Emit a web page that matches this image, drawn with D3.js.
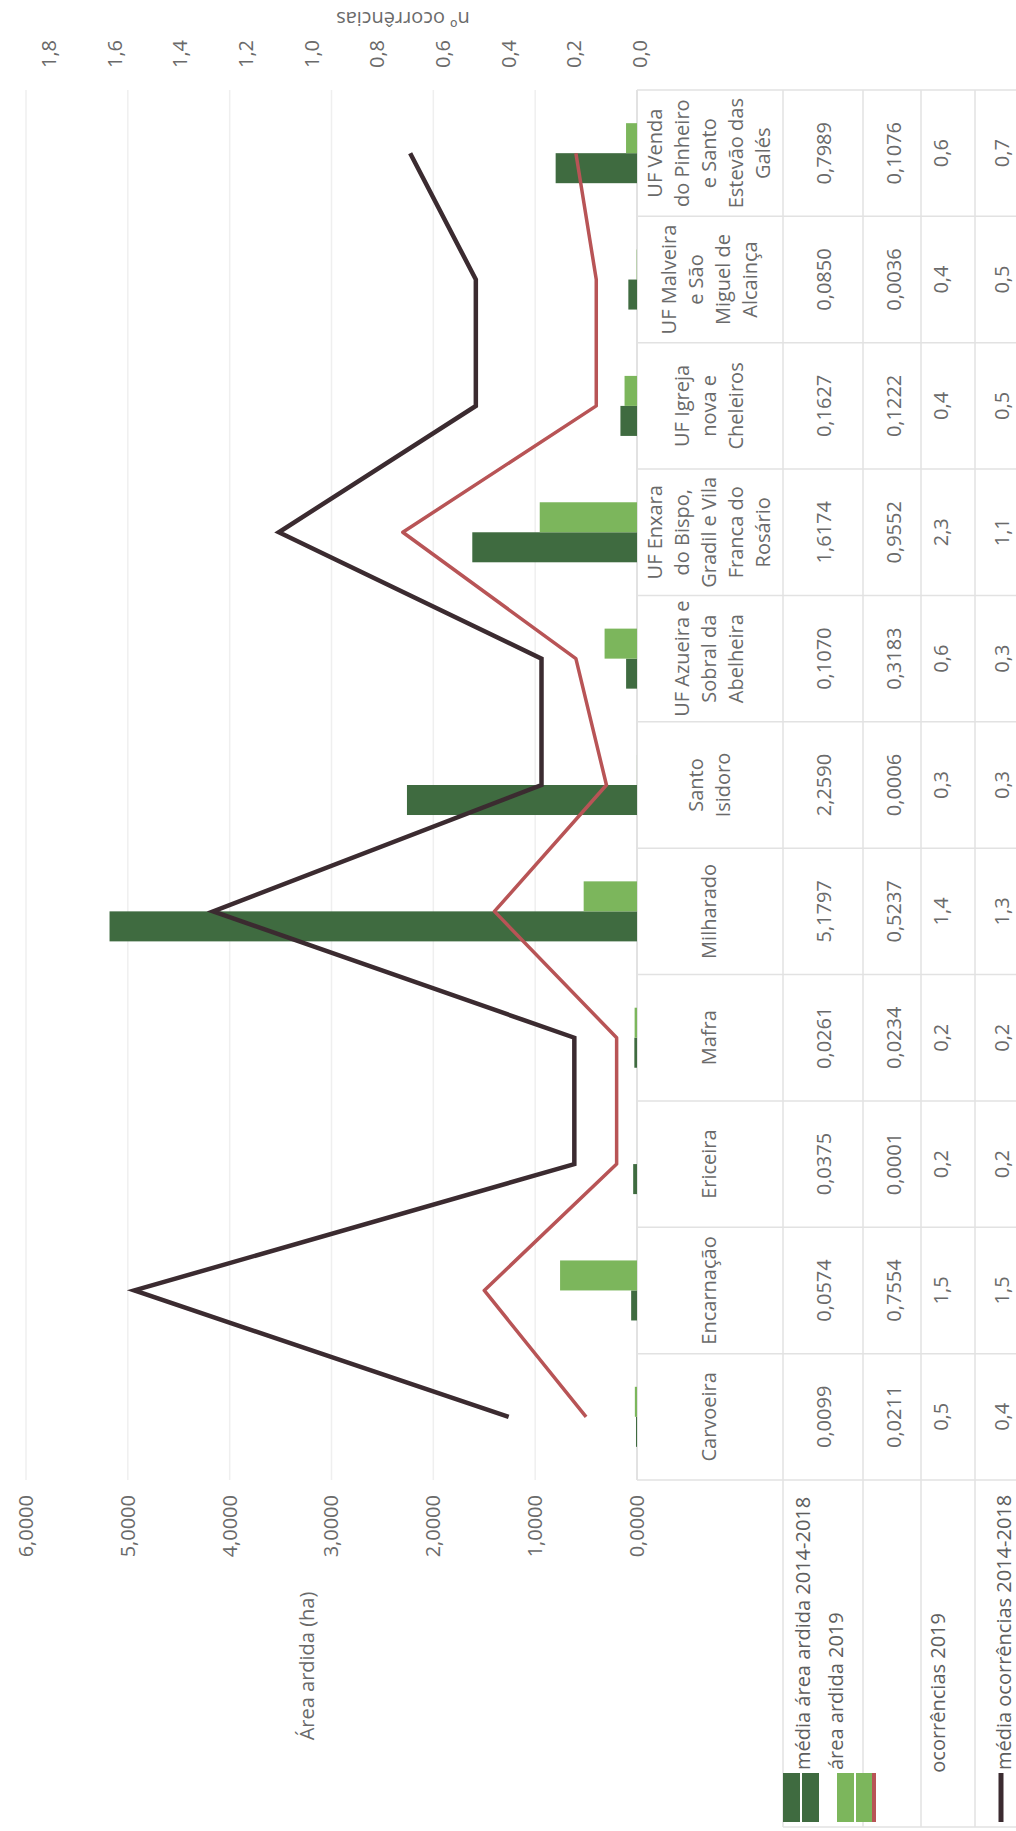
<!DOCTYPE html>
<html><head><meta charset="utf-8">
<script src="https://cdn.jsdelivr.net/npm/d3@7"></script>
<style>
body{margin:0;background:#fff;}
svg{display:block;}
text{font-family:"Open Sans",sans-serif;}
</style>
</head><body>
<svg id="chart" width="1016" height="1831"></svg>
<script>
// ---- data ----
const categories = ["Carvoeira","Encarnação","Ericeira","Mafra","Milharado","Santo Isidoro",
  "UF Azueira e Sobral da Abelheira","UF Enxara do Bispo, Gradil e Vila Franca do Rosário",
  "UF Igreja nova e Cheleiros","UF Malveira e São Miguel de Alcainça",
  "UF Venda do Pinheiro e Santo Estevão das Galés"];
const categoryLines = [["Carvoeira"],["Encarnação"],["Ericeira"],["Mafra"],["Milharado"],["Santo","Isidoro"],
  ["UF Azueira e","Sobral da","Abelheira"],["UF Enxara","do Bispo,","Gradil e Vila","Franca do","Rosário"],
  ["UF Igreja","nova e","Cheleiros"],["UF Malveira","e São","Miguel de","Alcainça"],
  ["UF Venda","do Pinheiro","e Santo","Estevão das","Galés"]];
const mediaArea2014_2018 = [0.0099,0.0574,0.0375,0.0261,5.1797,2.2590,0.1070,1.6174,0.1627,0.0850,0.7989];
const area2019 = [0.0211,0.7554,0.0001,0.0234,0.5237,0.0006,0.3183,0.9552,0.1222,0.0036,0.1076];
const ocorrencias2019 = [0.5,1.5,0.2,0.2,1.4,0.3,0.6,2.3,0.4,0.4,0.6];
const mediaOcorrencias2014_2018 = [0.4,1.54,0.2,0.2,1.3,0.3,0.3,1.1,0.5,0.5,0.7];
const leftTicks = [0,1,2,3,4,5,6];
const rightTicks = [0,0.2,0.4,0.6,0.8,1.0,1.2,1.4,1.6,1.8];
const seriesNames = ["média área ardida 2014-2018","área ardida 2019","ocorrências 2019","média ocorrências 2014-2018"];

// ---- layout (chart drawn landscape, then rotated -90deg onto the page) ----
const PAGE_H = 1831;
const C = {darkGreen:"#3f6b40", lightGreen:"#7cb65c", red:"#b85456", dark:"#3b2b30",
  text:"#6a6a6a", grid:"#efefef", table:"#e2e2e2"};
const fmtComma = d3.formatLocale({decimal:",", thousands:".", grouping:[3], currency:["","€"]});
const f4 = fmtComma.format(".4f"), f1 = fmtComma.format(".1f");

const svg = d3.select("#chart");
const g = svg.append("g").attr("transform",`translate(0,${PAGE_H}) rotate(-90)`);

const plotL = 351, plotR = 1741, plotTop = 26, plotBase = 637;
const x = d3.scaleBand().domain(categories).range([plotL, plotR]).paddingInner(0.525).paddingOuter(0.2625);
const xs = d3.scaleBand().domain(["media","y2019"]).range([0, x.bandwidth()]);
const yL = d3.scaleLinear().domain([0,6]).range([plotBase, plotTop]);
const yR = d3.scaleLinear().domain([0,1.8]).range([640, 49]);
const step = x.step();
const edge = c => x(c) - (step - x.bandwidth())/2;

// gridlines
g.append("g").selectAll("line").data(leftTicks.filter(t=>t>0)).join("line")
  .attr("x1",plotL).attr("x2",plotR).attr("y1",d=>yL(d)).attr("y2",d=>yL(d))
  .attr("stroke",C.grid).attr("stroke-width",1.5);

// table lines
const rowBounds = [783, 863, 921, 975];
const tbl = g.append("g").attr("stroke",C.table).attr("stroke-width",1.5);
tbl.append("line").attr("x1",plotL).attr("x2",plotR).attr("y1",plotBase).attr("y2",plotBase).attr("stroke","#d8d8d8");
rowBounds.forEach(r=>tbl.append("line").attr("x1",4).attr("x2",plotR).attr("y1",r).attr("y2",r));
tbl.selectAll("line.col").data(categories.concat(["__end"])).join("line").attr("class","col")
  .attr("x1",(d,i)=> i<categories.length ? edge(d) : edge(categories[i-1])+step)
  .attr("x2",(d,i)=> i<categories.length ? edge(d) : edge(categories[i-1])+step)
  .attr("y1",plotBase).attr("y2",1016);
tbl.append("line").attr("x1",4).attr("x2",4).attr("y1",rowBounds[0]).attr("y2",1016);

// bars
g.append("g").selectAll("rect").data(categories).join("rect")
  .attr("x",d=>x(d)+xs("media")).attr("width",xs.bandwidth())
  .attr("y",(d,i)=>yL(mediaArea2014_2018[i])).attr("height",(d,i)=>yL(0)-yL(mediaArea2014_2018[i]))
  .attr("fill",C.darkGreen);
g.append("g").selectAll("rect").data(categories).join("rect")
  .attr("x",d=>x(d)+xs("y2019")).attr("width",xs.bandwidth())
  .attr("y",(d,i)=>yL(area2019[i])).attr("height",(d,i)=>yL(0)-yL(area2019[i]))
  .attr("fill",C.lightGreen);

// lines
const cx = d => x(d) + x.bandwidth()/2;
g.append("path").datum(categories)
  .attr("d", d3.line().x(d=>cx(d)).y((d,i)=>yL(ocorrencias2019[i])))
  .attr("fill","none").attr("stroke",C.red).attr("stroke-width",3.5).attr("stroke-linejoin","round");
g.append("path").datum(categories)
  .attr("d", d3.line().x(d=>cx(d)).y((d,i)=>yR(mediaOcorrencias2014_2018[i])))
  .attr("fill","none").attr("stroke",C.dark).attr("stroke-width",4.5).attr("stroke-linejoin","miter");

// axes
function styleAxis(sel){
  sel.select(".domain").remove();
  sel.selectAll("text").attr("fill",C.text).style("font-size","20px").style("font-family",'"Open Sans",sans-serif');
}
g.append("g").attr("transform",`translate(${plotL},0)`)
  .call(d3.axisLeft(yL).tickValues(leftTicks).tickFormat(f4).tickSize(0).tickPadding(15)).call(styleAxis);
g.append("g").attr("transform",`translate(${plotR},0)`)
  .call(d3.axisRight(yR).tickValues(rightTicks).tickFormat(f1).tickSize(0).tickPadding(22)).call(styleAxis);

// axis titles
g.append("text").attr("x",165).attr("y",309).attr("text-anchor","middle").attr("dominant-baseline","middle")
  .attr("fill",C.text).style("font-size","20px").text("Área ardida (ha)");
g.append("text").attr("transform","translate(1814,403) rotate(-90)").attr("text-anchor","middle")
  .attr("dominant-baseline","middle").attr("fill",C.text).style("font-size","20px").text("nº ocorrências");

// data table
const catRowY = 711, lineH = 27;
const cats = g.append("g").attr("fill",C.text).style("font-size","20px").attr("text-anchor","middle");
categories.forEach((c,i)=>{
  const lines = categoryLines[i];
  const t = cats.append("text").attr("x",cx(c)).attr("dominant-baseline","middle");
  lines.forEach((ln,j)=>t.append("tspan").attr("x",cx(c)).attr("y",catRowY + (j-(lines.length-1)/2)*lineH).text(ln));
});
const rowsY = [826, 896, 943, 1004];
const rowData = [mediaArea2014_2018.map(f4), area2019.map(f4), ocorrencias2019.map(f1), mediaOcorrencias2014_2018.map(f1)];
rowData.forEach((vals,r)=>{
  g.append("g").selectAll("text").data(categories).join("text")
    .attr("x",d=>cx(d)).attr("y",rowsY[r]).attr("text-anchor","middle").attr("dominant-baseline","middle")
    .attr("fill",C.text).style("font-size","20px").text((d,i)=>vals[i]);
});

// legend keys in table
const lg = g.append("g");
lg.append("rect").attr("x",9).attr("y",783).attr("width",49).attr("height",36).attr("fill",C.darkGreen);
lg.append("line").attr("x1",9).attr("x2",58).attr("y1",801).attr("y2",801).attr("stroke","#fff").attr("stroke-width",2);
lg.append("rect").attr("x",9).attr("y",837).attr("width",49).attr("height",36).attr("fill",C.lightGreen);
lg.append("line").attr("x1",9).attr("x2",58).attr("y1",855).attr("y2",855).attr("stroke","#fff").attr("stroke-width",2);
lg.append("rect").attr("x",9).attr("y",872).attr("width",49).attr("height",4).attr("fill",C.red);
lg.append("line").attr("x1",9).attr("x2",58).attr("y1",1001).attr("y2",1001).attr("stroke",C.dark).attr("stroke-width",5);
const legY = [805, 838, 940, 1006];
const legX = [61, 61, 64, 61];
seriesNames.forEach((s,i)=>{
  lg.append("text").attr("x", i===2 ? 218 : legX[i]).attr("y",legY[i])
    .attr("text-anchor", i===2 ? "end" : "start").attr("dominant-baseline","middle")
    .attr("fill","#5e5e5e").style("font-size","20px").text(s);
});
</script>
</body></html>
